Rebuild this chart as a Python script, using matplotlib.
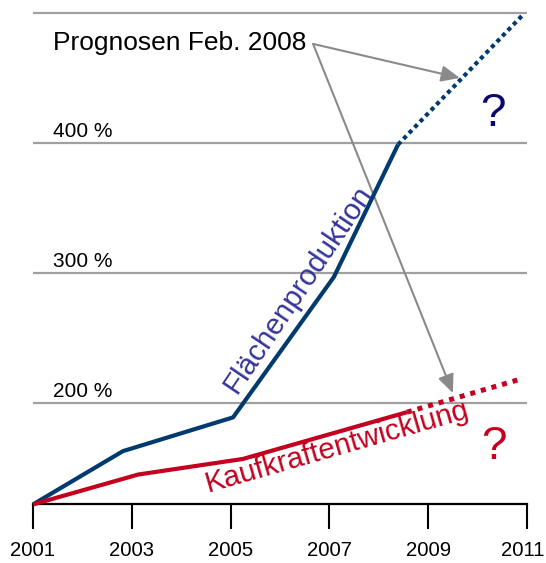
import matplotlib
matplotlib.use("Agg")
import matplotlib.pyplot as plt
from matplotlib.transforms import ScaledTranslation

plt.rcParams['font.family'] = ['Liberation Sans', 'DejaVu Sans']

# ---- data ----
tick_years = [2001, 2003, 2005, 2007, 2009, 2011]
tick_labels = ['2001', '2003', '2005', '2007', '2009', '2011']

grid_values = [200, 300, 400, 500]
grid_labels = ['200 %', '300 %', '400 %', '']

base_value = 122  # start of both indexed series (on the bottom axis)

flaeche_years = [2001, 2002.82, 2005.05, 2007.09, 2008.39]
flaeche_values = [base_value, 163, 189, 297, 399]
flaeche_prog_years = [2008.39, 2010.92]
flaeche_prog_values = [399, 499]

kauf_years = [2001, 2003.13, 2005.25, 2008.57]
kauf_values = [base_value, 145, 157, 193]
kauf_prog_years = [2008.57, 2010.92]
kauf_prog_values = [193, 219]

# ---- styling ----
BLUE = '#003a6e'
BLUE_TXT = '#35359a'
BLUE_Q = '#0a0a6e'
RED = '#c4001e'
GRID = '#a0a0a0'
ARROW = '#8a8a8a'

fig = plt.figure(figsize=(5.46, 5.63), dpi=100)
ax = fig.add_axes([0, 0, 1, 1])
ax.set_xlim(2000.332, 2011.385)
ax.set_ylim(76.9, 510.3)

# gridlines + labels
ax.hlines(grid_values, tick_years[0], tick_years[-1], color=GRID, lw=1.6, zorder=1)
for v, lab in zip(grid_values, grid_labels):
    if lab:
        ax.text(2001.40, v + 4.5, lab, fontsize=15, ha='left', va='baseline', color='black')

# axis
for s in ['left', 'right', 'top']:
    ax.spines[s].set_visible(False)
ax.spines['bottom'].set_position(('data', base_value))
ax.spines['bottom'].set_bounds(tick_years[0], tick_years[-1])
ax.spines['bottom'].set_linewidth(1.6)
ax.set_yticks([])
ax.set_xticks(tick_years)
ax.set_xticklabels(tick_labels)
ax.tick_params(axis='x', direction='out', length=18, width=1.5, pad=8, labelsize=14.6)
last = ax.get_xticklabels()[-1]
last.set_transform(last.get_transform() + ScaledTranslation(-4 / 100, 0, fig.dpi_scale_trans))

# series
ax.plot(flaeche_years, flaeche_values, color=BLUE, lw=3.0, solid_capstyle='butt', zorder=3)
ax.plot(flaeche_prog_years, flaeche_prog_values, color=BLUE, lw=3.0,
        linestyle=(0, (1, 0.9)), dash_capstyle='butt', zorder=3)
ax.plot(kauf_years, kauf_values, color=RED, lw=3.0, solid_capstyle='butt', zorder=3)
ax.plot(kauf_prog_years, kauf_prog_values, color=RED, lw=3.6,
        linestyle=(0, (1, 1.2)), dash_capstyle='butt', zorder=3)

# rotated series labels
ax.text(2006.36, 287.8, 'Flächenproduktion', color=BLUE_TXT, fontsize=21.3,
        rotation=56, rotation_mode='anchor', ha='center', va='center', zorder=4)
ax.text(2007.15, 166.2, 'Kaufkraftentwicklung', color=RED, fontsize=21.3,
        rotation=16, rotation_mode='anchor', ha='center', va='center', zorder=4)

# question marks
ax.text(2010.31, 413.3, '?', color=BLUE_Q, fontsize=33, ha='center', va='baseline')
ax.text(2010.33, 156.9, '?', color=RED, fontsize=33, ha='center', va='baseline')

# annotation
ax.text(2001.40, 471.8, 'Prognosen Feb. 2008', fontsize=19, ha='left', va='baseline', color='black')
src = (2006.67, 476.5)
for tip in [(2009.64, 450.3), (2009.50, 207.7)]:
    ax.annotate('', xy=tip, xytext=src,
                arrowprops=dict(arrowstyle='-|>,head_length=0.8,head_width=0.35',
                                mutation_scale=14, color=ARROW, lw=1.5,
                                shrinkA=0, shrinkB=0), zorder=2)

fig.savefig('out.png', dpi=100)
